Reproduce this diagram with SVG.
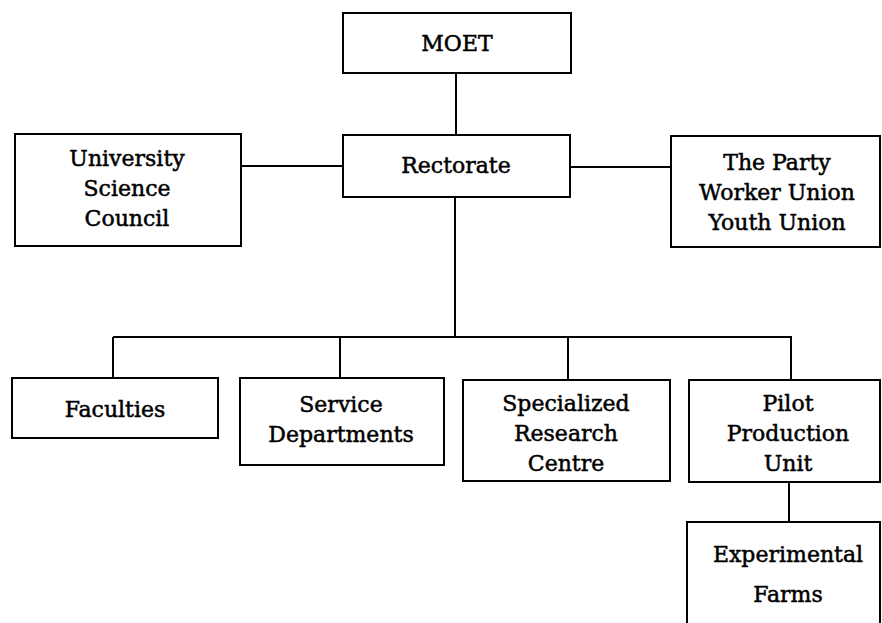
<svg xmlns="http://www.w3.org/2000/svg" width="882" height="623" viewBox="0 0 882 623">
<style>
rect{fill:#fff;stroke:#000;stroke-width:2}
.c line{stroke:#000;stroke-width:2}
text{font-family:"DejaVu Serif","Liberation Serif",serif;font-size:22px;fill:#000;stroke:#000;stroke-width:0.5;text-anchor:middle}
</style>
<rect x="0" y="0" width="882" height="623" style="stroke:none"/>
<g class="c" id="connectors">
<line x1="456" y1="73" x2="456" y2="135"/>
<line x1="241" y1="166" x2="343" y2="166"/>
<line x1="570" y1="167" x2="671" y2="167"/>
<line x1="455" y1="197" x2="455" y2="337"/>
<line x1="113" y1="337" x2="792" y2="337"/>
<line x1="113" y1="337" x2="113" y2="378"/>
<line x1="340" y1="337" x2="340" y2="378"/>
<line x1="568" y1="337" x2="568" y2="380"/>
<line x1="791" y1="337" x2="791" y2="380"/>
<line x1="789" y1="482" x2="789" y2="522"/>
</g>
<g id="moet"><rect x="343" y="13" width="228" height="60"/><text x="457" y="51">MOET</text></g>
<g id="rectorate"><rect x="343" y="135" width="227" height="62"/><text x="456" y="173">Rectorate</text></g>
<g id="usc"><rect x="15" y="134" width="226" height="112"/><text x="127" y="166">University</text><text x="127" y="196">Science</text><text x="127" y="226">Council</text></g>
<g id="party"><rect x="671" y="136" width="209" height="111"/><text x="777" y="170">The Party</text><text x="777" y="200">Worker Union</text><text x="777" y="230">Youth Union</text></g>
<g id="faculties"><rect x="12" y="378" width="206" height="60"/><text x="115" y="417">Faculties</text></g>
<g id="service"><rect x="240" y="378" width="204" height="87"/><text x="341" y="412">Service</text><text x="341" y="442">Departments</text></g>
<g id="specialized"><rect x="463" y="380" width="207" height="101"/><text x="566" y="411">Specialized</text><text x="566" y="441">Research</text><text x="566" y="471">Centre</text></g>
<g id="pilot"><rect x="689" y="380" width="191" height="102"/><text x="788" y="411">Pilot</text><text x="788" y="441">Production</text><text x="788" y="471">Unit</text></g>
<g id="experimental"><rect x="687" y="522" width="193" height="110"/><text x="788" y="562">Experimental</text><text x="788" y="602">Farms</text></g>
</svg>
